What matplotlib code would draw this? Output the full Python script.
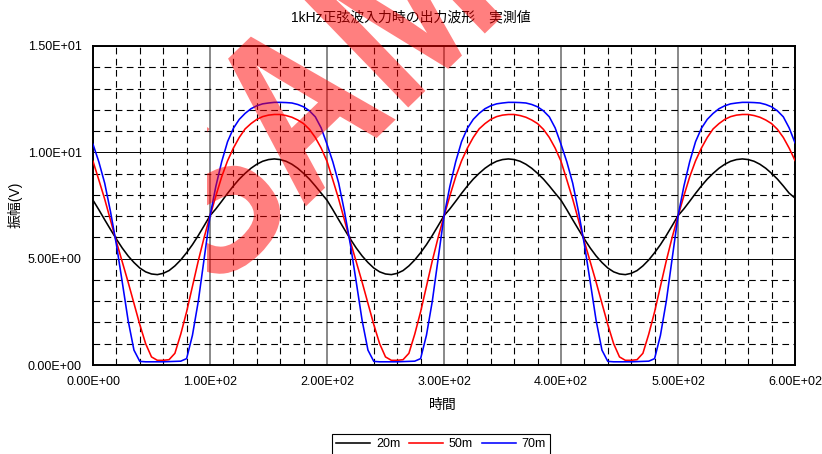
import numpy as np
import matplotlib
matplotlib.use("Agg")
import matplotlib.pyplot as plt
from matplotlib.ticker import MultipleLocator, FuncFormatter
from matplotlib.transforms import Bbox, TransformedBbox, Affine2D, IdentityTransform
from matplotlib.textpath import TextPath
from matplotlib.patches import PathPatch
from matplotlib.font_manager import FontProperties

plt.rcParams['font.family'] = ['Liberation Sans', 'Noto Sans CJK JP']

# sample times (x axis), every 5 units
t_us = np.arange(0, 605, 5)

# measured output, 20m
v_20m = [
    7.75, 7.30, 6.83, 6.37, 5.92, 5.50, 5.13, 4.82, 4.56, 4.38,
    4.28, 4.25, 4.31, 4.44, 4.66, 4.94, 5.28, 5.66, 6.09, 6.55,
    7.02, 7.34, 7.70, 8.07, 8.42, 8.74, 9.01, 9.25, 9.44, 9.58,
    9.66, 9.69, 9.66, 9.58, 9.44, 9.25, 9.01, 8.74, 8.42, 8.08,
    7.75, 7.30, 6.83, 6.37, 5.92, 5.50, 5.13, 4.82, 4.56, 4.38,
    4.28, 4.25, 4.31, 4.44, 4.66, 4.94, 5.28, 5.66, 6.09, 6.55,
    7.02, 7.34, 7.70, 8.07, 8.42, 8.74, 9.01, 9.25, 9.44, 9.58,
    9.66, 9.69, 9.66, 9.58, 9.44, 9.25, 9.01, 8.74, 8.42, 8.08,
    7.75, 7.30, 6.83, 6.37, 5.92, 5.50, 5.13, 4.82, 4.56, 4.38,
    4.28, 4.25, 4.31, 4.44, 4.66, 4.94, 5.28, 5.66, 6.09, 6.55,
    7.02, 7.34, 7.70, 8.07, 8.42, 8.74, 9.01, 9.25, 9.44, 9.58,
    9.66, 9.69, 9.66, 9.58, 9.44, 9.25, 9.01, 8.74, 8.42, 8.08,
    7.85,
]

# measured output, 50m
v_50m = [
    9.58, 8.70, 7.80, 6.80, 5.80, 4.85, 3.90, 2.90, 1.90, 1.00,
    0.38, 0.22, 0.22, 0.25, 0.55, 1.45, 2.50, 3.70, 4.90, 6.00,
    7.00, 7.95, 8.85, 9.60, 10.20, 10.70, 11.10, 11.35, 11.55, 11.68,
    11.75, 11.78, 11.78, 11.73, 11.65, 11.52, 11.35, 11.08, 10.70, 10.20,
    9.58, 8.70, 7.80, 6.80, 5.80, 4.85, 3.90, 2.90, 1.90, 1.00,
    0.38, 0.22, 0.22, 0.25, 0.55, 1.45, 2.50, 3.70, 4.90, 6.00,
    7.00, 7.95, 8.85, 9.60, 10.20, 10.70, 11.10, 11.35, 11.55, 11.68,
    11.75, 11.78, 11.78, 11.73, 11.65, 11.52, 11.35, 11.08, 10.70, 10.20,
    9.58, 8.70, 7.80, 6.80, 5.80, 4.85, 3.90, 2.90, 1.90, 1.00,
    0.38, 0.22, 0.22, 0.25, 0.55, 1.45, 2.50, 3.70, 4.90, 6.00,
    7.00, 7.95, 8.85, 9.60, 10.20, 10.70, 11.10, 11.35, 11.55, 11.68,
    11.75, 11.78, 11.78, 11.73, 11.65, 11.52, 11.35, 11.08, 10.70, 10.20,
    9.62,
]

# measured output, 70m
v_70m = [
    10.38, 9.55, 8.55, 7.20, 5.66, 3.90, 2.10, 0.70, 0.17, 0.15,
    0.15, 0.15, 0.15, 0.16, 0.17, 0.18, 0.30, 1.40, 3.00, 5.00,
    7.00, 8.40, 9.56, 10.50, 11.13, 11.55, 11.83, 12.05, 12.19, 12.28,
    12.32, 12.35, 12.35, 12.34, 12.32, 12.25, 12.14, 11.95, 11.67, 11.15,
    10.38, 9.55, 8.55, 7.20, 5.66, 3.90, 2.10, 0.70, 0.17, 0.15,
    0.15, 0.15, 0.15, 0.16, 0.17, 0.18, 0.30, 1.40, 3.00, 5.00,
    7.00, 8.40, 9.56, 10.50, 11.13, 11.55, 11.83, 12.05, 12.19, 12.28,
    12.32, 12.35, 12.35, 12.34, 12.32, 12.25, 12.14, 11.95, 11.67, 11.15,
    10.38, 9.55, 8.55, 7.20, 5.66, 3.90, 2.10, 0.70, 0.17, 0.15,
    0.15, 0.15, 0.15, 0.16, 0.17, 0.18, 0.30, 1.40, 3.00, 5.00,
    7.00, 8.40, 9.56, 10.50, 11.13, 11.55, 11.83, 12.05, 12.19, 12.28,
    12.32, 12.35, 12.35, 12.34, 12.32, 12.25, 12.14, 11.95, 11.67, 11.15,
    10.45,
]

series = [("20m", v_20m, "black"), ("50m", v_50m, "red"), ("70m", v_70m, "blue")]

W, H = 822, 454
fig = plt.figure(figsize=(W / 100, H / 100), dpi=100)
ax = fig.add_axes([93 / W, 1 - 365 / H, 702 / W, 319 / H])

lines = []
for name, vals, col in series:
    ln, = ax.plot(t_us, vals, color=col, lw=1.15, label=name, zorder=3)
    lines.append(ln)

ax.set_xlim(0, 600)
ax.set_ylim(0, 15)
ax.xaxis.set_major_locator(MultipleLocator(100))
ax.xaxis.set_minor_locator(MultipleLocator(20))
ax.yaxis.set_major_locator(MultipleLocator(5))
ax.yaxis.set_minor_locator(MultipleLocator(1))
sci = FuncFormatter(lambda v, pos: f"{v:.2E}")
ax.xaxis.set_major_formatter(sci)
ax.yaxis.set_major_formatter(sci)
ax.tick_params(which='both', length=0, labelsize=9, pad=8)

ax.set_axisbelow(True)
ax.grid(which='major', axis='x', color='#808080', lw=1.3, ls='-')
ax.grid(which='major', axis='y', color='black', lw=0.7, ls='-')
ax.grid(which='minor', color='black', lw=0.8, ls=(0, (6, 4)))
for sp in ax.spines.values():
    sp.set_linewidth(1.4)
    sp.set_color('black')

fig.text(0.5, 1 - 17 / H, "1kHz正弦波入力時の出力波形　実測値",
         ha='center', va='center', fontsize=10)
fig.text(443 / W, 1 - 405 / H, "時間", ha='center', va='center', fontsize=10)
fig.text(15 / W, 1 - 205 / H, "振幅(V)", ha='center', va='center',
         rotation=90, fontsize=10)

leg = fig.legend(lines, [s[0] for s in series], loc='upper center',
                 bbox_to_anchor=(441 / W, 1 - 434 / H), ncol=3,
                 fontsize=9, frameon=True, fancybox=False, framealpha=1,
                 edgecolor='black', handlelength=2.7, handletextpad=0.5,
                 columnspacing=0.7, borderpad=0.35, borderaxespad=0)
leg.get_frame().set_linewidth(0.8)

# watermark: narrowed bold text, rotated, cut off on its left side
wm_path = TextPath((0, 0), "SAMPLE", size=233,
                   prop=FontProperties(family='Liberation Sans', weight='bold'))
wm_tr = Affine2D().scale(0.8, 1.0).rotate_deg(44).translate(213, H - 296)
wm = PathPatch(wm_tr.transform_path(wm_path), facecolor='red',
               edgecolor='none', alpha=0.5, transform=IdentityTransform(),
               zorder=10)
fig.add_artist(wm)
wm.set_clip_box(TransformedBbox(Bbox([[207 / W, 0], [1, 1]]), fig.transFigure))

fig.savefig("out.png", dpi=100)
